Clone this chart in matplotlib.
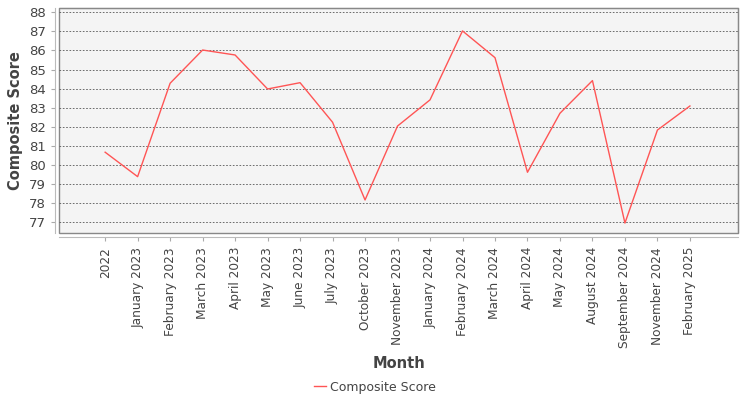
import matplotlib
matplotlib.use("Agg")
import matplotlib.pyplot as plt

months = ["2022", "January 2023", "February 2023", "March 2023", "April 2023", "May 2023",
          "June 2023", "July 2023", "October 2023", "November 2023", "January 2024",
          "February 2024", "March 2024", "April 2024", "May 2024", "August 2024",
          "September 2024", "November 2024", "February 2025"]
scores = [80.67, 79.39, 84.28, 86.02, 85.76, 83.98, 84.31, 82.24, 78.17, 82.04, 83.41,
          87.02, 85.62, 79.62, 82.71, 84.42, 76.96, 81.83, 83.09]
yticks = list(range(77, 89))

plt.rcParams['font.family'] = ['DejaVu Sans']
fig = plt.figure(figsize=(7.5, 4.0), dpi=100)
ax = fig.add_axes([59/750, 1-233/400, (738-59)/750, (233-8)/400])
ax.set_facecolor('#f4f4f4')
for s in ['top', 'right']:
    ax.spines[s].set_color('#888888')
for s in ['left', 'bottom']:
    ax.spines[s].set_position(('outward', 3))
    ax.spines[s].set_color('#bbbbbb')
ax.patch.set_edgecolor('#888888')
ax.patch.set_linewidth(1.0)

x = list(range(len(months)))
ax.plot(x, scores, color='#ff5555', linewidth=1.0, label='Composite Score')
ax.set_xlim(-1.42, len(months) - 1 + 1.48)
ax.set_ylim(76.44, 88.22)
ax.set_yticks(yticks)
ax.set_xticks(x)
ax.set_xticklabels(months, rotation=90, fontsize=8.7, color='#444444')
ax.tick_params(axis='y', labelsize=9.5, colors='#444444', length=3, color='#aaaaaa')
ax.tick_params(axis='x', length=3, color='#aaaaaa', pad=4)
ax.grid(axis='y', color='#555555', linestyle=(0, (2, 2)), linewidth=0.6)
ax.set_axisbelow(True)
ax.set_ylabel('Composite Score', fontsize=10.5, fontweight='bold', color='#444444', labelpad=4)
fig.text(398.5/750, 1-364/400, 'Month', ha='center', va='center',
         fontsize=10.5, fontweight='bold', color='#444444')
leg = fig.legend(loc='center', bbox_to_anchor=(0.5, 1-387/400), frameon=False,
                 fontsize=9, handlelength=1.0, handletextpad=0.3)
for t in leg.get_texts():
    t.set_color('#444444')
fig.savefig('out.png', dpi=100)
